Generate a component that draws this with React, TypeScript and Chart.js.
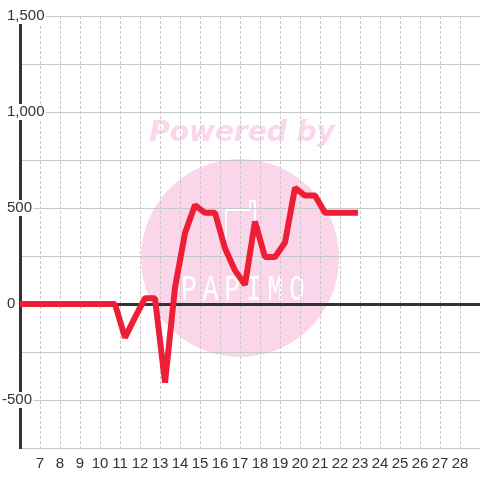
import React, { useEffect, useRef } from "react";
import { Chart, registerables } from "chart.js";

Chart.register(...registerables);

// Time positions (day index, half-day samples) and values
const times: number[] = [
  5.75, 6.25, 6.75, 7.25, 7.75, 8.25, 8.75, 9.25, 9.75, 10.25, 10.75,
  11.25, 11.75, 12.25, 12.75, 13.25, 13.75, 14.25, 14.75, 15.25, 15.75,
  16.25, 16.75, 17.25, 17.75, 18.25, 18.75, 19.25, 19.75, 20.25, 20.75,
  21.25, 21.75, 22.25, 22.75,
];
const values: number[] = [
  0, 0, 0, 0, 0, 0, 0, 0, 0, 0, 0,
  -175, -70, 30, 30, -410, 85, 370, 515, 475, 475,
  290, 175, 100, 430, 245, 245, 320, 605, 565, 565,
  475, 475, 475, 475,
];
const xMin = 6;
const xMax = 29;
const xLabelFirst = 7;
const xLabelLast = 28;
const yMin = -750;
const yMax = 1500;
const yStep = 250;
const yLabelStep = 500;

const FONT = '"Liberation Sans", Arial, sans-serif';

const watermark = {
  id: "watermark",
  beforeDraw(chart: any) {
    const ctx = chart.ctx;
    ctx.save();
    ctx.fillStyle = "#ffffff";
    ctx.fillRect(0, 0, chart.width, chart.height);
    ctx.fillStyle = "#fbd6ea";
    ctx.beginPath();
    ctx.arc(240, 258, 99, 0, Math.PI * 2);
    ctx.fill();
    ctx.font = 'bold italic 28px "DejaVu Sans"';
    ctx.fillStyle = "#fcd6ea";
    ctx.textAlign = "center";
    ctx.textBaseline = "middle";
    ctx.fillText("Powered by", 242, 134);
    ctx.strokeStyle = "#ffffff";
    ctx.lineWidth = 2;
    ctx.beginPath();
    ctx.moveTo(226, 240);
    ctx.lineTo(226, 210);
    ctx.lineTo(250, 210);
    ctx.moveTo(250, 210);
    ctx.lineTo(250, 201);
    ctx.lineTo(255, 201);
    ctx.lineTo(255, 240);
    ctx.stroke();
    ctx.save();
    ctx.translate(243, 290);
    ctx.scale(1, 1.45);
    ctx.font = '26px "Liberation Mono"';
    (ctx as any).letterSpacing = "6px";
    ctx.fillStyle = "#ffffff";
    ctx.textAlign = "center";
    ctx.textBaseline = "middle";
    ctx.fillText("PAPIMO", 3, 0);
    ctx.restore();
    ctx.restore();
  },
};

const yLabels = {
  id: "yLabels",
  beforeDatasetsDraw(chart: any) {
    const ctx = chart.ctx;
    const scale = chart.scales.y;
    ctx.save();
    ctx.font = "15px " + FONT;
    ctx.textBaseline = "middle";
    ctx.textAlign = "left";
    for (const t of scale.ticks) {
      const v = t.value;
      if (v % yLabelStep !== 0) continue;
      const text = Number(v).toLocaleString("en-US");
      const y = scale.getPixelForValue(v);
      const minusW = v < 0 ? ctx.measureText("-").width : 0;
      const x = 7 - minusW;
      const w = ctx.measureText(text).width;
      ctx.fillStyle = "#ffffff";
      ctx.fillRect(x - 1, y - 8, w + 2, 16);
      ctx.fillStyle = "#333333";
      ctx.fillText(text, x, y);
    }
    ctx.restore();
  },
};

export default function App() {
  const ref = useRef<HTMLCanvasElement>(null);
  useEffect(() => {
    if (!ref.current) return;
    Chart.defaults.font.family = FONT;
    Chart.defaults.font.size = 15;
    Chart.defaults.color = "#333333";
    const chart = new Chart(ref.current, {
      type: "line",
      data: {
        datasets: [
          {
            data: times.map((t, i) => ({ x: t, y: values[i] })),
            borderColor: "#ed1f36",
            borderWidth: 6,
            pointRadius: 0,
            tension: 0,
            borderJoinStyle: "bevel",
            borderCapStyle: "square",
            fill: false,
          },
        ],
      },
      options: {
        responsive: false,
        animation: false,
        layout: { padding: { top: 16, left: 7, right: 0, bottom: 0 } },
        plugins: { legend: { display: false }, tooltip: { enabled: false } },
        scales: {
          x: {
            type: "linear",
            min: xMin,
            max: xMax,
            afterFit: (s: any) => {
              s.height = 32;
              s.paddingRight = 0;
              s.paddingLeft = 0;
            },
            ticks: {
              stepSize: 1,
              autoSkip: false,
              maxRotation: 0,
              padding: 7,
              color: "#333333",
              callback: (v: any) =>
                v >= xLabelFirst && v <= xLabelLast ? String(v) : "",
            },
            grid: { color: "#c8c8c8", lineWidth: 1, drawTicks: false },
            border: { display: false, dash: [3, 2] },
          },
          y: {
            type: "linear",
            min: yMin,
            max: yMax,
            afterFit: (s: any) => {
              s.width = 13;
              s.paddingTop = 0;
              s.paddingBottom = 0;
            },
            ticks: {
              stepSize: yStep,
              display: false,
            },
            grid: {
              drawTicks: false,
              color: (c: any) => (c.tick && c.tick.value === 0 ? "#333333" : "#c8c8c8"),
              lineWidth: (c: any) => (c.tick && c.tick.value === 0 ? 3 : 1),
            },
            border: { display: true, color: "#333333", width: 3 },
          },
        },
      },
      plugins: [watermark, yLabels],
    });
    return () => chart.destroy();
  }, []);
  return (
    <canvas
      ref={ref}
      width={480}
      height={480}
      style={{ position: "fixed", left: 0, top: 0, width: 480, height: 480 }}
    />
  );
}
